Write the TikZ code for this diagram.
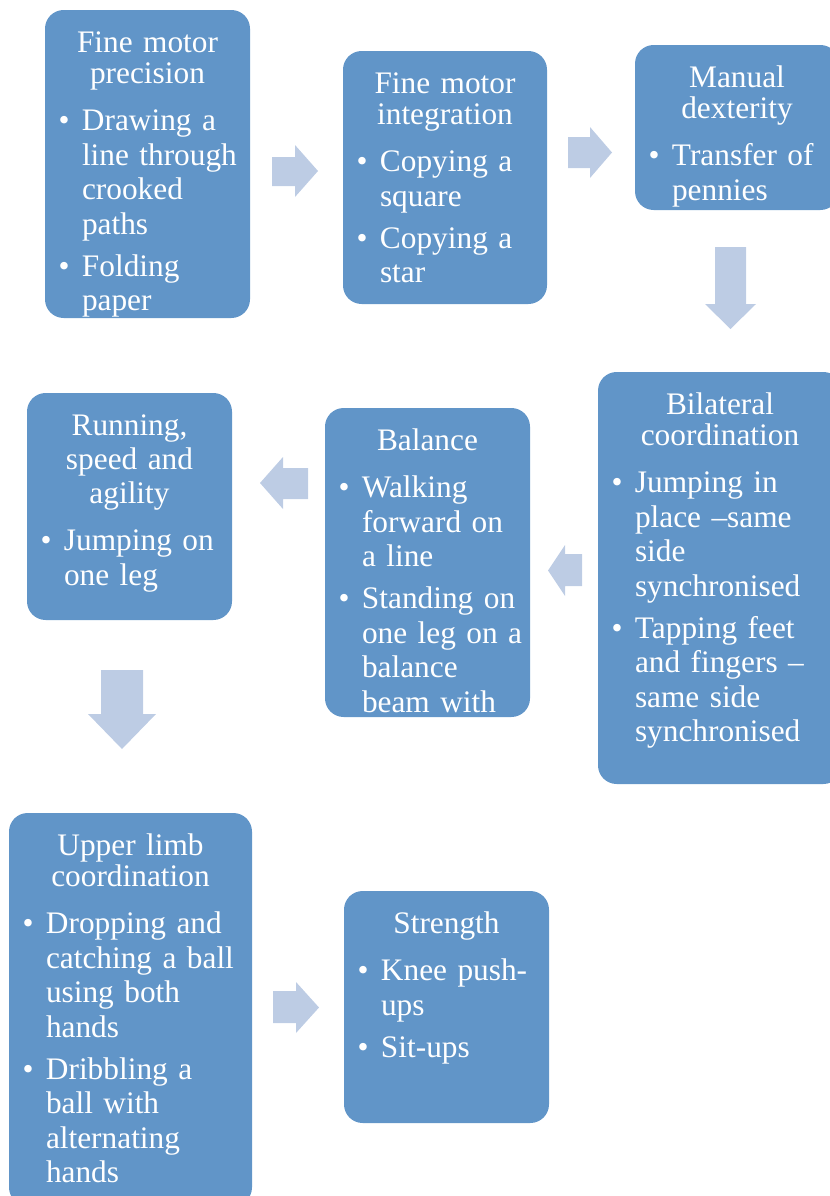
\documentclass[tikz,border=0pt]{standalone}
\usepackage{fontspec}
\setmainfont{Liberation Serif}
\usepackage{xcolor}
\usepackage{tikz}

\definecolor{stageblue}{RGB}{97,149,200}
\definecolor{arrowblue}{RGB}{189,204,228}

\newcommand{\stagetitle}[2][23.25]{{\centering\fontsize{23.5}{#1}\selectfont\noindent\rule{0pt}{25pt}#2\par}\vspace{3.75pt}}
\newcommand{\stageitem}[1]{\vspace{5.6pt}{\hyphenpenalty=10000 \exhyphenpenalty=10000 \let\\\newline\hangindent=13.5pt \hangafter=1 \noindent\makebox[13.5pt][l]{\hspace{-4pt}\textbullet}#1\par}}

\begin{document}
\begin{tikzpicture}[x=0.75pt,y=0.75pt,yscale=-1,xscale=1,
  stagebox/.style={fill=stageblue,draw=none,rounded corners=14pt},
  flowarrow/.style={fill=arrowblue,draw=none},
  stagetext/.style={text=white,align=left,inner sep=0pt,anchor=north,
    font=\fontsize{23.5}{25.9}\selectfont}]
\useasboundingbox (0,0) rectangle (830,1196);
\clip (0,0) rectangle (830,1196);

%Shape: Rounded Rect [fine motor precision]
\draw[stagebox] (45,10) rectangle (250,318);
%Shape: Rounded Rect [fine motor integration]
\draw[stagebox] (343,51) rectangle (547,304);
%Shape: Rounded Rect [manual dexterity]
\draw[stagebox] (635,45) rectangle (839,210);
%Shape: Rounded Rect [bilateral coordination]
\draw[stagebox] (598,372) rectangle (842,784);
%Shape: Rounded Rect [balance]
\draw[stagebox] (325,408) rectangle (530,717);
%Shape: Rounded Rect [running]
\draw[stagebox] (27,393) rectangle (232,620);
%Shape: Rounded Rect [upper limb]
\draw[stagebox] (9,813) rectangle (252,1206);
%Shape: Rounded Rect [strength]
\draw[stagebox] (344,891) rectangle (549,1123);

%Shape: Right Arrow
\fill[flowarrow] (272,157) -- (295,157) -- (295,145) -- (318,171) -- (295,197) -- (295,186) -- (272,186) -- cycle;
%Shape: Right Arrow
\fill[flowarrow] (568,137) -- (590,137) -- (590,127) -- (612,152.5) -- (590,178) -- (590,168) -- (568,168) -- cycle;
%Shape: Down Arrow
\fill[flowarrow] (715,247) -- (746,247) -- (746,304) -- (756,304) -- (730.5,329) -- (705,304) -- (715,304) -- cycle;
%Shape: Left Arrow
\fill[flowarrow] (582,554) -- (565,554) -- (565,545) -- (548,570.5) -- (565,596) -- (565,586) -- (582,586) -- cycle;
%Shape: Left Arrow
\fill[flowarrow] (308,468) -- (283,468) -- (283,457) -- (260,483) -- (283,509) -- (283,499) -- (308,499) -- cycle;
%Shape: Down Arrow
\fill[flowarrow] (101,670) -- (143,670) -- (143,714) -- (156,714) -- (122,749) -- (88,714) -- (101,714) -- cycle;
%Shape: Right Arrow
\fill[flowarrow] (273,991) -- (296,991) -- (296,982) -- (319,1007.5) -- (296,1033) -- (296,1023) -- (273,1023) -- cycle;

% Text Node
\node[stagetext,text width=125.25pt] (precision) at (147.5,19) {\stagetitle{Fine motor\\precision}\stageitem{Drawing a\\line~through\\crooked\\paths}\stageitem{Folding\\paper}};
% Text Node
\node[stagetext,text width=124.5pt] (integration) at (445,60) {\stagetitle{Fine motor\\integration}\stageitem{Copying a\\square}\stageitem{Copying a\\star}};
% Text Node
\node[stagetext,text width=124.5pt] (dexterity) at (737,54) {\stagetitle{Manual\\dexterity}\stageitem{Transfer~of\\pennies}};
% Text Node
\node[stagetext,text width=154.5pt] (bilateral) at (720,381) {\stagetitle{Bilateral\\coordination}\stageitem{Jumping in\\place --same\\side\\synchronised}\stageitem{Tapping feet\\and fingers --\\same side\\synchronised}};
% Text Node
\node[stagetext,text width=125.25pt] (balance) at (427.5,417) {\stagetitle{Balance}\stageitem{Walking\\forward~on\\a line}\stageitem{Standing~on\\one~leg~on~a\\balance\\beam with}};
% Text Node
\node[stagetext,text width=125.25pt] (running) at (129.5,402) {\stagetitle[25.5]{Running,\\speed and\\agility}\stageitem{Jumping~on\\one leg}};
% Text Node
\node[stagetext,text width=153.75pt] (upperlimb) at (130.5,822) {\stagetitle{Upper limb\\coordination}\stageitem{Dropping and\\catching~a~ball\\using both\\hands}\stageitem{Dribbling a\\ball with\\alternating\\hands}};
% Text Node
\node[stagetext,text width=125.25pt] (strength) at (446.5,900) {\stagetitle{Strength}\stageitem{Knee~push-\\ups}\stageitem{Sit-ups}};
\end{tikzpicture}
\end{document}
